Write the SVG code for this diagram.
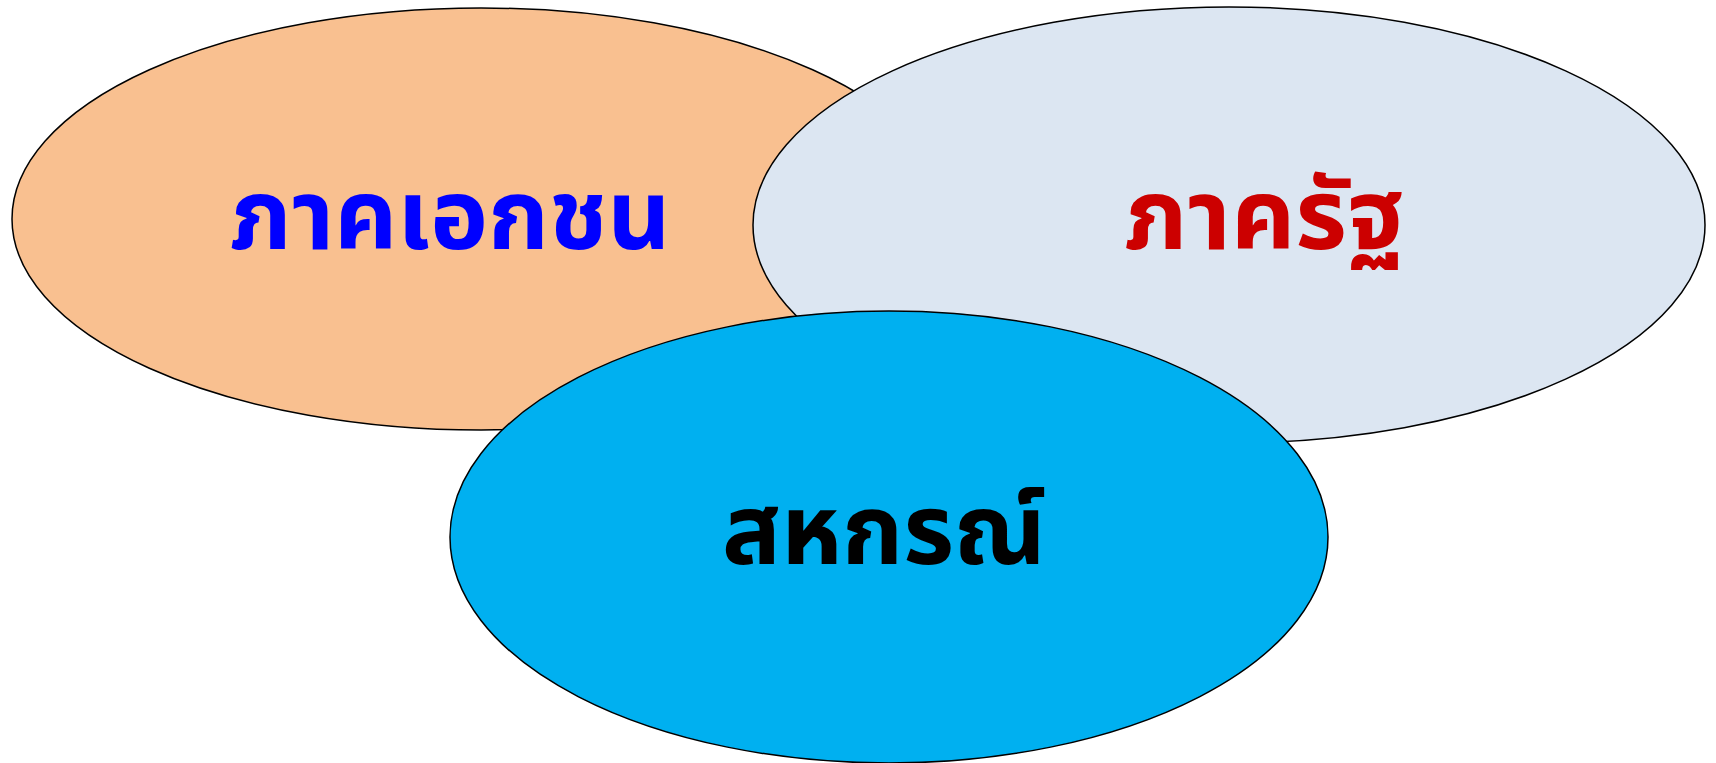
<svg xmlns="http://www.w3.org/2000/svg" width="1716" height="763" viewBox="0 0 1716 763">
<style>
.e{stroke:#000;stroke-width:1.5}
.t{font-family:"Noto Sans Thai","Noto Sans",sans-serif;font-weight:bold;text-anchor:middle}
</style>
<rect width="1716" height="763" fill="#fff"/>
<g id="private">
<ellipse class="e" cx="481" cy="219" rx="469" ry="211" fill="#F9C090"/>
<text class="t" x="450" y="249" font-size="98" fill="#0000FF" textLength="441" lengthAdjust="spacingAndGlyphs">ภาคเอกชน</text>
</g>
<g id="public">
<ellipse class="e" cx="1229" cy="225" rx="476" ry="218" fill="#DCE6F2"/>
<text class="t" x="1264" y="249" font-size="98" fill="#CC0000" textLength="280" lengthAdjust="spacingAndGlyphs">ภาครัฐ</text>
</g>
<g id="coop">
<ellipse class="e" cx="889" cy="537" rx="439" ry="226" fill="#00B0F0"/>
<text class="t" x="884" y="564" font-size="98" fill="#000" textLength="324" lengthAdjust="spacingAndGlyphs">สหกรณ์</text>
</g>
<g id="connectors"/>
</svg>
